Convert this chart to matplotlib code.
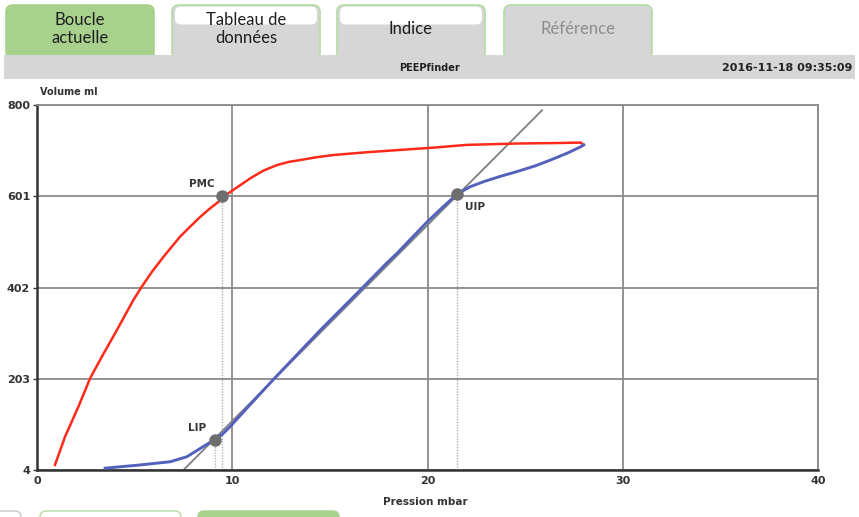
from __future__ import annotations

import matplotlib as mpl
import matplotlib.pyplot as plt
from matplotlib.patches import FancyBboxPatch, Rectangle


W, H, DPI = 859, 517, 100

# pressure (mbar) / volume (ml) loop
RED_P = [0.92, 1.44, 2.12, 2.72, 3.32, 4.09, 4.94, 5.37, 5.90, 6.48, 7.33, 7.85, 8.36, 8.85,
         9.30, 9.55, 10.30, 10.92, 11.60, 12.29, 12.90, 13.49, 14.30, 15.20, 16.90, 18.60,
         20.30, 22.00, 24.60, 26.50, 27.85, 28.00]
RED_V = [15, 77, 142, 204, 251, 309, 375, 404, 437, 469, 513, 535, 556, 574,
         589, 600, 622, 640, 657, 669, 676, 680, 686, 691, 697, 702,
         707, 713, 716, 717, 718, 713]
BLUE_P = [3.49, 5.28, 6.82, 7.68, 8.36, 9.04, 9.50, 9.90, 10.84, 12.12, 14.51, 16.73, 17.93,
          18.45, 19.98, 20.80, 21.52, 22.20, 22.89, 23.70, 24.60, 25.50, 26.30, 27.16, 27.85, 28.00]
BLUE_V = [8, 15, 22, 33, 51, 69, 82, 99, 143, 202, 309, 404, 456,
          477, 545, 578, 606, 622, 633, 644, 655, 667, 680, 695, 709, 713]
TANGENT_P = [7.5, 25.9]
TANGENT_V = [4, 790]
POINT_NAMES = ["PMC", "LIP", "UIP"]
POINT_P = [9.5, 9.1, 21.5]
POINT_V = [601, 70, 606]
X_TICKS = [0, 10, 20, 30, 40]
Y_TICKS = [4, 203, 402, 601, 800]
TAB_LABELS = ["Boucle\nactuelle", "Tableau de\ndonnées", "Indice", "Référence"]

GREEN = "#a9d18e"
GREEN_EDGE = "#b5dca0"
BAR_GRAY = "#d6d6d6"
GRID = "#8a8a8a"
INK = "#333333"


def draw_header(fig):
    ov = fig.add_axes([0, 0, 1, 1], zorder=-1)
    ov.set_xlim(0, W)
    ov.set_ylim(H, 0)
    ov.axis("off")

    tabs = [(6, 154), (172, 320), (337, 485), (504, 652)]
    for i, ((x0, x1), label) in enumerate(zip(tabs, TAB_LABELS)):
        if i == 0:
            face, edge = GREEN, GREEN
        else:
            face, edge = BAR_GRAY, GREEN_EDGE
        ov.add_patch(FancyBboxPatch((x0, 5), x1 - x0, 54, boxstyle="round,pad=0,rounding_size=7",
                                    facecolor=face, edgecolor=edge, linewidth=1.2))
        if i in (1, 2):
            ov.add_patch(FancyBboxPatch((x0 + 3, 6.5), x1 - x0 - 6, 18,
                                        boxstyle="round,pad=0,rounding_size=6",
                                        facecolor="white", edgecolor="none"))
        color = "#8c8c8c" if i == 3 else "#1e1e1e"
        ov.text((x0 + x1) / 2, 29, label, ha="center", va="center", fontsize=12,
                color=color, linespacing=1.2, family="Lato")

    ov.add_patch(Rectangle((4, 55), W - 8, 24, facecolor=BAR_GRAY, edgecolor="none"))
    ov.text(430, 68, "PEEPfinder", ha="center", va="center", fontsize=7, color="#222222",
            fontweight="bold")
    ov.text(852, 68, "2016-11-18 09:35:09", ha="right", va="center", fontsize=8,
            color="#222222", fontweight="bold")

    # tabs of the lower toolbar, cut by the bottom edge
    ov.add_patch(FancyBboxPatch((-10, 511), 31, 20, boxstyle="round,pad=0,rounding_size=6",
                                facecolor="white", edgecolor="#c8c8c8", linewidth=1.0))
    ov.add_patch(FancyBboxPatch((40, 511), 141, 20, boxstyle="round,pad=0,rounding_size=6",
                                facecolor="white", edgecolor=GREEN_EDGE, linewidth=1.0))
    ov.add_patch(FancyBboxPatch((198, 511), 141, 20, boxstyle="round,pad=0,rounding_size=6",
                                facecolor=GREEN, edgecolor=GREEN, linewidth=1.0))


def draw_plot(fig):
    left, right, top, bottom = 37, 818, 105, 470
    ax = fig.add_axes([left / W, 1 - bottom / H, (right - left) / W, (bottom - top) / H])
    ax.set_xlim(0, 40)
    ax.set_ylim(4, 800)
    ax.set_xticks(X_TICKS)
    ax.set_yticks(Y_TICKS)
    ax.grid(True, color=GRID, linewidth=1.3, zorder=0)
    for side in ("top", "right"):
        ax.spines[side].set_color(GRID)
        ax.spines[side].set_linewidth(1.3)
    for side in ("left", "bottom"):
        ax.spines[side].set_color(INK)
        ax.spines[side].set_linewidth(1.8)
    ax.tick_params(axis="y", length=3, width=1, color=INK, pad=2,
                   labelsize=8, labelcolor=INK)
    ax.tick_params(axis="x", length=0, pad=4, labelsize=8, labelcolor=INK)
    for lab in ax.get_xticklabels() + ax.get_yticklabels():
        lab.set_fontweight("bold")

    # dotted drop lines from the inflection points
    for p, v in zip(POINT_P, POINT_V):
        ax.vlines(p, 4, v, colors="#b0b0b0", linestyles=(0, (1, 1)), linewidth=1.0, zorder=1)

    ax.plot(TANGENT_P, TANGENT_V, color="#7f7f7f", linewidth=1.3, zorder=2,
            solid_capstyle="butt")
    ax.plot(RED_P, RED_V, color="#ff2a1a", linewidth=1.8, zorder=3)
    ax.plot(BLUE_P, BLUE_V, color="#5361bd", linewidth=2.1, zorder=3)
    ax.plot(POINT_P, POINT_V, "o", color="#6e6e6e", markersize=9, zorder=4,
            markeredgewidth=0)

    offsets = {"PMC": (-6, 5, "right", "bottom"), "LIP": (-6, 5, "right", "bottom"),
               "UIP": (6, -6, "left", "top")}
    for name, p, v in zip(POINT_NAMES, POINT_P, POINT_V):
        dx, dy, ha, va = offsets[name]
        ax.annotate(name, (p, v), xytext=(dx, dy), textcoords="offset points",
                    ha=ha, va=va, fontsize=7.5, color=INK, fontweight="bold")

    fig.text(40 / W, 1 - 92 / H, "Volume ml", ha="left", va="center", fontsize=7,
             color=INK, fontweight="bold")
    fig.text(425 / W, 1 - 502 / H, "Pression mbar", ha="center", va="center", fontsize=7.5,
             color=INK, fontweight="bold")
    return ax


def main() -> int:
    mpl.rcParams.update({"font.family": ["DejaVu Sans"], "figure.facecolor": "white"})
    fig = plt.figure(figsize=(W / DPI, H / DPI), dpi=DPI)
    draw_header(fig)
    draw_plot(fig)
    fig.savefig("out.png", dpi=DPI)
    plt.close(fig)
    return 0


if __name__ == "__main__":
    raise SystemExit(main())
